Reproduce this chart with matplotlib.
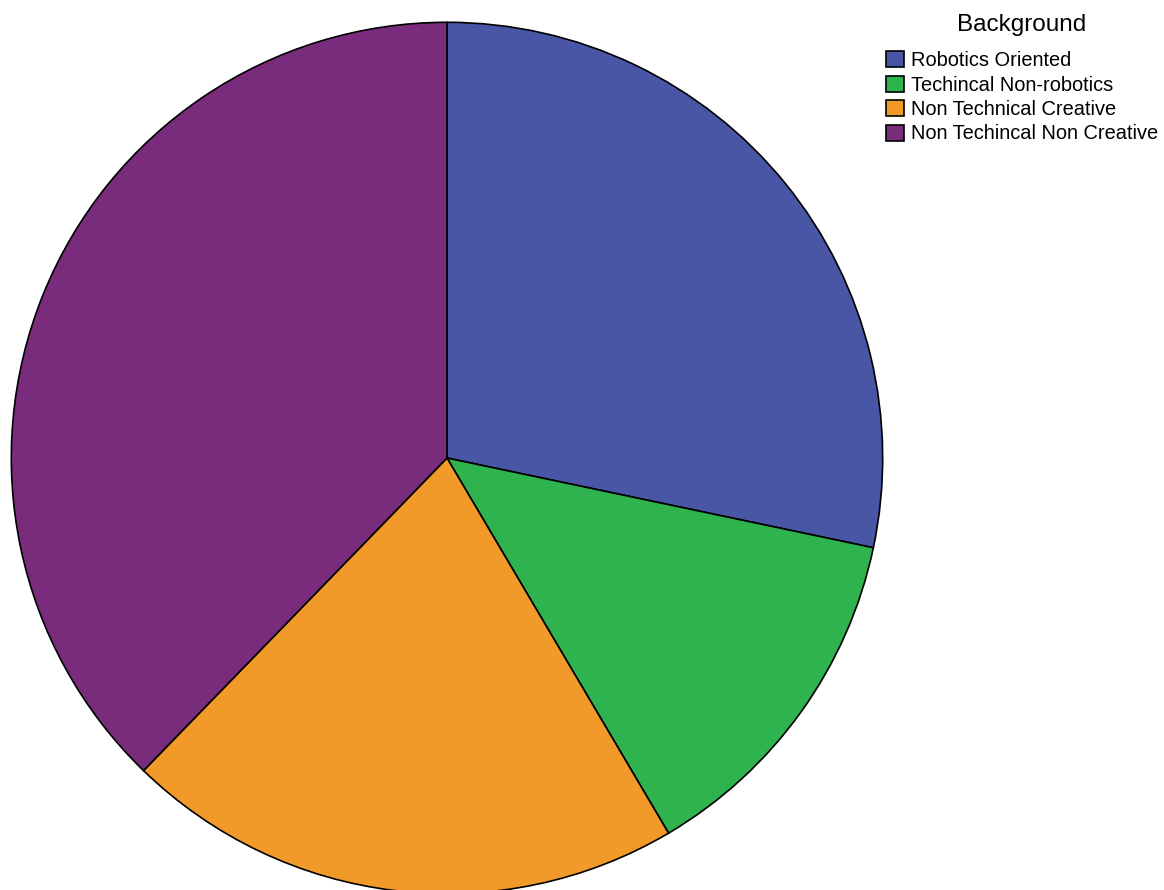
import matplotlib
matplotlib.use("Agg")
import matplotlib.pyplot as plt
from matplotlib.patches import Patch

plt.rcParams['font.family'] = ['Liberation Sans', 'DejaVu Sans']

# jumlah responden per latar belakang
labels = ['Robotics Oriented', 'Techincal Non-robotics',
          'Non Technical Creative', 'Non Techincal Non Creative']
counts = [15, 7, 11, 20]
colors = ['#4955A5', '#2EB34F', '#F19A2A', '#7A2C7C']

fig = plt.figure(figsize=(11.64, 8.90), dpi=100)
ax = fig.add_axes([10 / 1164, -5 / 890, 874 / 1164, 874 / 890])

ax.pie(counts, colors=colors, startangle=90, counterclock=False,
       wedgeprops=dict(edgecolor='black', linewidth=1.2))
ax.set_xlim(-1.003, 1.003)
ax.set_ylim(-1.003, 1.003)
ax.set_aspect('equal')

handles = [Patch(facecolor=c, edgecolor='black', linewidth=1.2) for c in colors]
leg = fig.legend(handles, labels, title='Background',
                 loc='upper left', bbox_to_anchor=(886 / 1164, 1 - 14 / 890),
                 frameon=False, fontsize=14.4, title_fontsize=17.5,
                 handlelength=0.9, handleheight=0.85, handletextpad=0.35,
                 labelspacing=0.27, borderpad=0, borderaxespad=0)
leg._legend_box.align = 'center'
leg._legend_box.sep = 11

fig.savefig('out.png', dpi=100)
